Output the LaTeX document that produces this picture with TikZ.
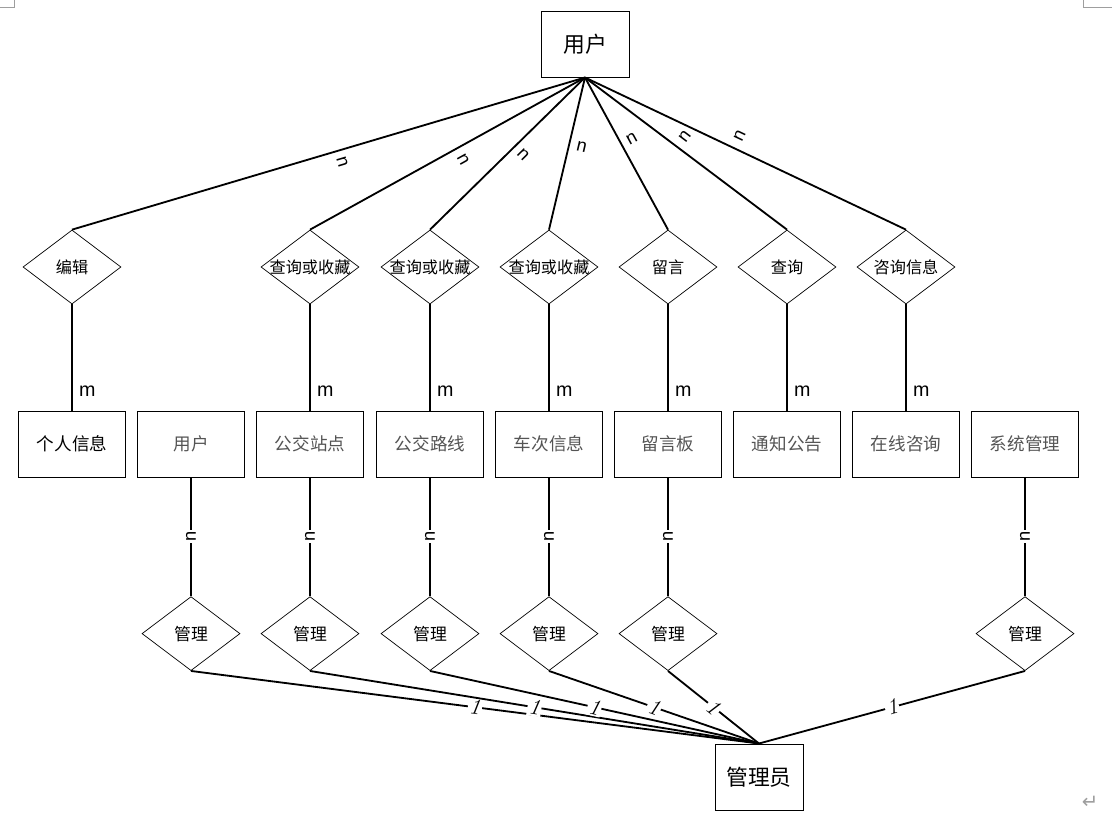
\documentclass[tikz,border=0pt]{standalone}
\usepackage{fontspec}
\newfontfamily\cjk{Noto Sans CJK SC}
\newfontfamily\arial{Liberation Sans}
\newfontfamily\symfont{DejaVu Sans}
\usetikzlibrary{shapes.geometric,positioning}
\definecolor{boxgray}{rgb}{0.33,0.33,0.33}
\definecolor{markgray}{rgb}{0.62,0.62,0.62}
\tikzset{
  entity/.style={draw, line width=0.7pt, minimum width=2.675cm, minimum height=1.65cm, inner sep=0pt, font=\cjk\fontsize{12.5}{14}\selectfont},
  faded/.style={entity, text=boxgray},
  bigbox/.style={entity, minimum width=2.2cm, font=\cjk\fontsize{15.5}{17}\selectfont},
  relation/.style={diamond, draw, line width=0.5pt, minimum width=2.45cm, minimum height=1.85cm, inner sep=0pt,
    font=\cjk\fontsize{11.5}{13}\selectfont, execute at begin node={\hbox to 0pt\bgroup\hss}, execute at end node={\hss\egroup}},
  manage/.style={relation, font=\cjk\fontsize{12}{14}\selectfont},
  link/.style={line width=1.3pt},
  mlab/.style={font=\arial\fontsize{14}{16}\selectfont, right, xshift=1pt},
  nlab/.style={font=\arial\fontsize{13}{15}\selectfont, inner sep=1pt},
  onelab/.style={font=\fontsize{16}{18}\selectfont\itshape, fill=white, inner sep=1pt, sloped},
}

\begin{document}
\begin{tikzpicture}
  \useasboundingbox (0,0) rectangle (27.8,-20.6);
  % page marks
  \draw[markgray, line width=0.6pt] (0.36,0) -- (0.36,-0.18) -- (0,-0.18);
  \draw[markgray, line width=0.6pt] (27.08,0) -- (27.08,-0.18) -- (27.8,-0.18);
  \node[markgray, font=\symfont\fontsize{14}{16}\selectfont] (ret) at (27.25,-20.07) {↵};

  % entities
  \node[bigbox] (user) at (14.625,-1.1) {用户};
  \node[bigbox] (admin) at (18.975,-19.425) {管理员};

  \node[entity] (personal) at (1.8,-11.1) {个人信息};
  \node[faded] (users) at (4.775,-11.1) {用户};
  \node[faded] (stop) at (7.75,-11.1) {公交站点};
  \node[faded] (route) at (10.75,-11.1) {公交路线};
  \node[faded] (trip) at (13.725,-11.1) {车次信息};
  \node[faded] (board) at (16.7,-11.1) {留言板};
  \node[faded] (notice) at (19.675,-11.1) {通知公告};
  \node[faded] (online) at (22.65,-11.1) {在线咨询};
  \node[faded] (system) at (25.625,-11.1) {系统管理};

  % relations of the user
  \node[relation] (edit) at (1.8,-6.675) {编辑};
  \node[relation] (qstop) at (7.75,-6.675) {查询或收藏};
  \node[relation] (qroute) at (10.75,-6.675) {查询或收藏};
  \node[relation] (qtrip) at (13.725,-6.675) {查询或收藏};
  \node[relation] (leave) at (16.7,-6.675) {留言};
  \node[relation] (query) at (19.675,-6.675) {查询};
  \node[relation] (consult) at (22.65,-6.675) {咨询信息};

  % relations of the admin
  \node[manage] (musers) at (4.775,-15.84) {管理};
  \node[manage] (mstop) at (7.75,-15.84) {管理};
  \node[manage] (mroute) at (10.75,-15.84) {管理};
  \node[manage] (mtrip) at (13.725,-15.84) {管理};
  \node[manage] (mboard) at (16.7,-15.84) {管理};
  \node[manage] (msystem) at (25.625,-15.84) {管理};

  % user side
  \draw[link] (user.south) -- (edit.north) node[nlab, pos=0.48, shift={(-73.4:0.3)}, rotate=-73.4] {n};
  \draw[link] (user.south) -- (qstop.north) node[nlab, pos=0.466, shift={(-60.9:0.32)}, rotate=-60.9] {n};
  \draw[link] (user.south) -- (qroute.north) node[nlab, pos=0.453, shift={(-45.4:0.3)}, rotate=-45.4] {n};
  \draw[link] (user.south) -- (qtrip.north) node[nlab, pos=0.436, shift={(-13.2:0.32)}, rotate=-13.2] {n};
  \draw[link] (user.south) -- (leave.north) node[nlab, pos=0.437, shift={(28.5:0.3)}, rotate=28.5] {n};
  \draw[link] (user.south) -- (query.north) node[nlab, pos=0.456, shift={(52.9:0.32)}, rotate=52.9] {n};
  \draw[link] (user.south) -- (consult.north) node[nlab, pos=0.463, shift={(64.5:0.35)}, rotate=64.5] {n};

  \draw[link] (edit.south) -- (personal.north) node[mlab, pos=0.82] {m};
  \draw[link] (qstop.south) -- (stop.north) node[mlab, pos=0.82] {m};
  \draw[link] (qroute.south) -- (route.north) node[mlab, pos=0.82] {m};
  \draw[link] (qtrip.south) -- (trip.north) node[mlab, pos=0.82] {m};
  \draw[link] (leave.south) -- (board.north) node[mlab, pos=0.82] {m};
  \draw[link] (query.south) -- (notice.north) node[mlab, pos=0.82] {m};
  \draw[link] (consult.south) -- (online.north) node[mlab, pos=0.82] {m};

  % admin side
  \draw[link] (users.south) -- (musers.north) node[nlab, pos=0.5, fill=white, rotate=90] {n};
  \draw[link] (stop.south) -- (mstop.north) node[nlab, pos=0.5, fill=white, rotate=90] {n};
  \draw[link] (route.south) -- (mroute.north) node[nlab, pos=0.5, fill=white, rotate=90] {n};
  \draw[link] (trip.south) -- (mtrip.north) node[nlab, pos=0.5, fill=white, rotate=90] {n};
  \draw[link] (board.south) -- (mboard.north) node[nlab, pos=0.5, fill=white, rotate=90] {n};
  \draw[link] (system.south) -- (msystem.north) node[nlab, pos=0.5, fill=white, rotate=90] {n};

  \draw[link] (musers.south) -- (admin.north) node[onelab, pos=0.5] {1};
  \draw[link] (mstop.south) -- (admin.north) node[onelab, pos=0.5] {1};
  \draw[link] (mroute.south) -- (admin.north) node[onelab, pos=0.5] {1};
  \draw[link] (mtrip.south) -- (admin.north) node[onelab, pos=0.5] {1};
  \draw[link] (mboard.south) -- (admin.north) node[onelab, pos=0.5] {1};
  \draw[link] (msystem.south) -- (admin.north) node[onelab, pos=0.5] {1};
\end{tikzpicture}
\end{document}
